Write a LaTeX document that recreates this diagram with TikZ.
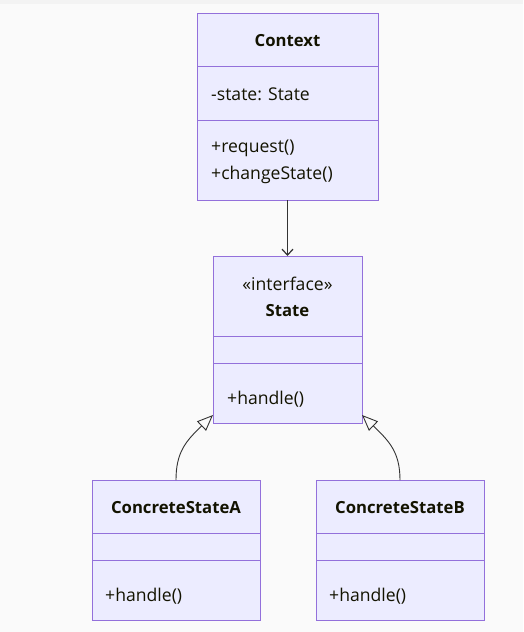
\documentclass[tikz,border=0pt]{standalone}
\usepackage{fontspec}
\setmainfont{Open Sans}
\usepackage{xcolor}
\usetikzlibrary{positioning,arrows.meta}
\definecolor{umlfill}{HTML}{ECECFF}
\definecolor{umlline}{HTML}{9370DB}
\definecolor{umltext}{HTML}{131300}
\definecolor{linkcol}{HTML}{333333}
\definecolor{bgcol}{HTML}{FAFAFA}
\definecolor{topcol}{HTML}{F3F3F3}

\begin{document}
\begin{tikzpicture}[x=1pt,y=-1pt,font=\fontsize{17.6}{20}\selectfont,text=umltext]
% Two part styles: box section and member text
\tikzstyle{class part}=[draw=umlline,fill=umlfill,line width=0.9pt,inner sep=0,outer sep=0];
\tikzstyle{member}=[anchor=base west,inner sep=0];
\tikzstyle{title}=[anchor=base,inner sep=0,font=\fontsize{16.7}{20}\selectfont\bfseries];
% Links
\tikzstyle{assoc}=[draw=linkcol,line width=1.2pt,-{Straight Barb[length=6pt,width=11pt,line width=1.2pt]}];
\tikzstyle{inherit}=[draw=linkcol,line width=0.9pt,-{Triangle[open,length=16pt,width=13pt,fill=bgcol]}];
% Canvas
\fill[bgcol] (0,0) rectangle (523,632);
\fill[topcol] (0,0) rectangle (523,4);
\useasboundingbox (0,0) rectangle (523,632);
% Context
\node[class part,minimum width=181,minimum height=53](ctx) at (287.5,39.5){};
\node[class part,minimum width=181,minimum height=54,below=0pt of ctx](ctxattr){};
\node[class part,minimum width=181,minimum height=80,below=0pt of ctxattr](ctxops){};
\node[title](ctxname) at (287.5,46.5){Context};
\node[member](ctxstate) at (211,100){-state: State};
\node[member](ctxreq) at (211,152.5){+request()};
\node[member](ctxchg) at (211,179.5){+changeState()};
% State
\node[class part,minimum width=149,minimum height=80](st) at (287.5,296){};
\node[class part,minimum width=149,minimum height=27,below=0pt of st](stattr){};
\node[class part,minimum width=149,minimum height=60,below=0pt of stattr](stops){};
\node[anchor=base,inner sep=0](stster) at (287.5,290){«interface»};
\node[title](stname) at (287.5,316.5){State};
\node[member](sthandle) at (227,404){+handle()};
% ConcreteStateA
\node[class part,minimum width=168,minimum height=53](csa) at (176,506.5){};
\node[class part,minimum width=168,minimum height=27,below=0pt of csa](csaattr){};
\node[class part,minimum width=168,minimum height=60,below=0pt of csaattr](csaops){};
\node[title](csaname) at (176,513){ConcreteStateA};
\node[member](csahandle) at (105,601){+handle()};
% ConcreteStateB
\node[class part,minimum width=168,minimum height=53](csb) at (400,506.5){};
\node[class part,minimum width=168,minimum height=27,below=0pt of csb](csbattr){};
\node[class part,minimum width=168,minimum height=60,below=0pt of csbattr](csbops){};
\node[title](csbname) at (400,513){ConcreteStateB};
\node[member](csbhandle) at (329,601){+handle()};
% links
\coordinate(tipa) at (213,415);
\coordinate(tipb) at (362,415);
\draw[assoc](ctxops.south)--(st.north);
\draw[inherit](csa.north) .. controls (176,452) and (186,441) .. (tipa);
\draw[inherit](csb.north) .. controls (400,452) and (389,441) .. (tipb);
\end{tikzpicture}
\end{document}
